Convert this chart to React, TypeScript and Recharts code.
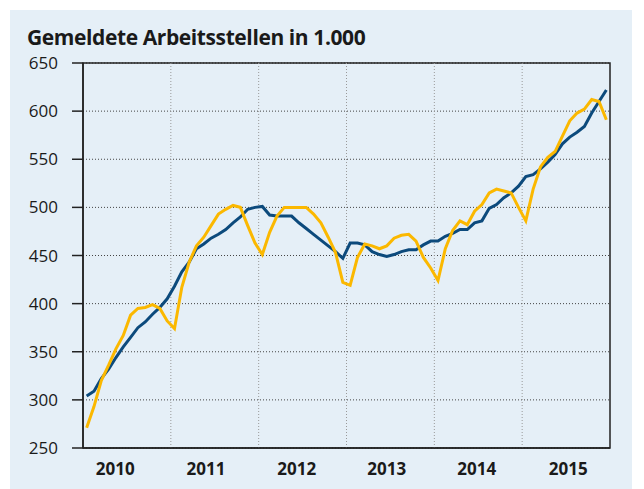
import React from 'react'
import {
  LineChart,
  Line,
  XAxis,
  YAxis,
  CartesianGrid,
  ReferenceLine,
  ReferenceArea,
} from 'recharts'

const years = ['2010', '2011', '2012', '2013', '2014', '2015']
// label positions in months from Jan 2010 (labels sit a little left of year centre)
const yearLabelPos = [4.4, 16.8, 29.2, 41.5, 53.8, 66.3]
const yearBounds = [12, 24, 36, 48, 60]
const yTicks = [250, 300, 350, 400, 450, 500, 550, 600, 650]

// dark blue line, monthly 2010-2015
const bereinigt = [
  304, 309, 322, 332, 344, 355, 365, 375, 381, 389, 396, 405,
  418, 433, 443, 457, 462, 468, 472, 477, 484, 490, 498, 500,
  501, 492, 491, 491, 491, 484, 478, 472, 466, 460, 454, 447,
  463, 463, 461, 454, 451, 449, 451, 454, 456, 456, 461, 465,
  465, 470, 473, 477, 477, 484, 486, 499, 503, 510, 515, 522,
  532, 534, 540, 547, 555, 566, 573, 578, 584, 598, 610, 622,
]

// yellow line, monthly 2010-2015
const ursprung = [
  271, 293, 320, 336, 353, 367, 388, 395, 396, 399, 395, 382,
  374, 417, 443, 460, 469, 481, 493, 498, 502, 500, 481, 463,
  451, 474, 491, 500, 500, 500, 500, 493, 484, 469, 453, 422,
  419, 448, 462, 460, 457, 460, 468, 471, 472, 465, 448, 437,
  424, 457, 476, 486, 482, 496, 503, 515, 519, 517, 515, 500,
  486, 519, 542, 552, 558, 574, 590, 598, 602, 612, 610, 591,
]

const data = bereinigt.map((v, i) => ({ m: i + 0.5, bereinigt: v, ursprung: ursprung[i] }))

const FONT = '"Open Sans", sans-serif'

export default function App() {
  return (
    <div
      style={{
        position: 'absolute',
        left: 10,
        top: 10,
        width: 622,
        height: 479,
        background: '#e5eff7',
        fontFamily: FONT,
      }}
    >
      <div
        style={{
          position: 'absolute',
          left: 17,
          top: 13,
          fontSize: 21,
          fontWeight: 700,
          color: '#1a1a1a',
          letterSpacing: -0.4,
        }}
      >
        Gemeldete Arbeitsstellen in 1.000
      </div>
      <LineChart
        width={622}
        height={479}
        data={data}
        margin={{ top: 53, right: 22, bottom: 11, left: 0 }}
      >
        <CartesianGrid
          vertical={false}
          stroke="#444"
          strokeDasharray="1 2"
        />
        {yearBounds.map((b) => (
          <ReferenceLine key={b} x={b} stroke="#999" strokeDasharray="1 2" />
        ))}
        <ReferenceArea
          x1={0}
          x2={72}
          y1={250}
          y2={650}
          fill="none"
          stroke="#222"
          strokeWidth={1.5}
        />
        <XAxis
          type="number"
          dataKey="m"
          domain={[0, 72]}
          ticks={yearLabelPos}
          interval={0}
          tickFormatter={(_v, i) => years[i]}
          tickLine={false}
          tickSize={0}
          tickMargin={15}
          axisLine={{ stroke: '#222', strokeWidth: 1.5 }}
          tick={{ fontSize: 17, fontWeight: 700, fill: '#1a1a1a', fontFamily: FONT }}
          height={30}
        />
        <YAxis
          domain={[250, 650]}
          ticks={yTicks}
          interval={0}
          width={73}
          tickSize={11}
          tickMargin={14}
          tickLine={{ stroke: '#222', strokeWidth: 1.5 }}
          axisLine={{ stroke: '#222', strokeWidth: 1.5 }}
          tick={{ fontSize: 17, fill: '#1a1a1a', fontFamily: FONT }}
        />
        <Line
          type="linear"
          dataKey="bereinigt"
          stroke="#0c4a7c"
          strokeWidth={3}
          dot={false}
          isAnimationActive={false}
        />
        <Line
          type="linear"
          dataKey="ursprung"
          stroke="#fbb800"
          strokeWidth={3}
          dot={false}
          isAnimationActive={false}
        />
      </LineChart>
    </div>
  )
}
